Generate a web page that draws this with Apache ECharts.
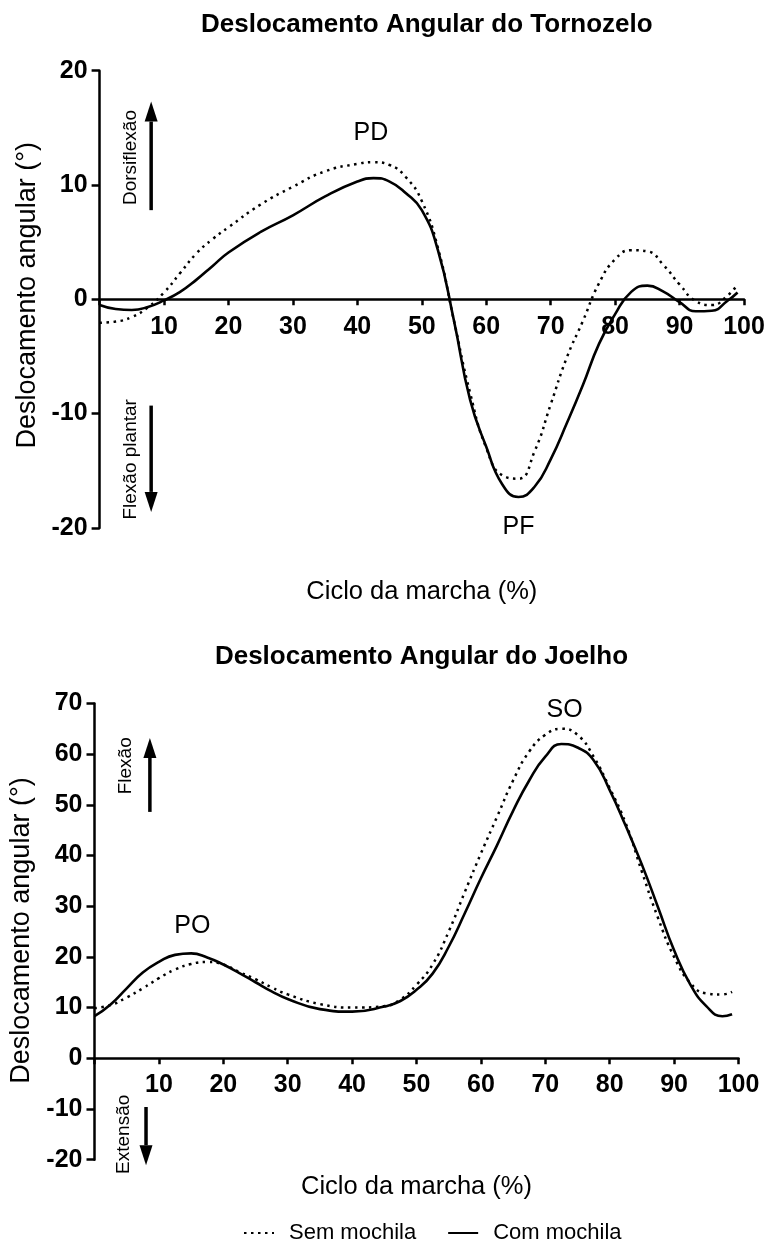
<!DOCTYPE html>
<html>
<head>
<meta charset="utf-8">
<script src="https://cdn.jsdelivr.net/npm/echarts@6/dist/echarts.min.js"></script>
<style>
html, body { margin: 0; padding: 0; background: #fff; }
#chart-container { width: 766px; height: 1245px; }
</style>
</head>
<body>
<div id="chart-container"></div>
<script>
// ankle (tornozelo), % of gait cycle
const ankleX   = [0, 2.5, 5, 7.5, 10, 12.5, 15, 17.5, 20, 25, 30, 35, 40, 42.5, 45, 47.5, 50, 52.5, 55, 57.5, 60, 62.5, 65, 67.5, 70, 72.5, 75, 77.5, 80, 82.5, 85, 87.5, 90, 92.5, 95, 97.5, 99];
const ankleSem = [-2.05, -1.95, -1.55, -0.7, 0.6, 2.3, 4.0, 5.25, 6.3, 8.3, 9.85, 11.2, 11.85, 12.0, 11.75, 10.7, 8.6, 4.5, -1.9, -8.2, -13.0, -15.4, -15.7, -13.3, -9.2, -5.1, -1.9, 1.4, 3.5, 4.3, 4.2, 3.0, 1.3, -0.15, -0.5, 0.35, 1.3];
const ankleCom = [-0.5, -0.85, -0.93, -0.67, -0.1, 0.65, 1.7, 2.9, 4.1, 5.9, 7.35, 9.0, 10.3, 10.6, 10.3, 9.3, 7.8, 4.3, -1.9, -8.8, -12.9, -16.2, -17.3, -16.4, -14.0, -10.85, -7.5, -3.9, -1.3, 0.65, 1.2, 0.67, -0.25, -1.05, -1.0, -0.1, 0.6];

// knee (joelho)
const kneeX   = [0, 2.5, 5, 7.5, 10, 12.5, 15, 17.5, 20, 22.5, 25, 27.5, 30, 35, 40, 45, 47.5, 50, 52.5, 55, 57.5, 60, 62.5, 65, 67.5, 70, 72.5, 75, 77.5, 80, 82.5, 85, 87.5, 90, 92.5, 95, 97.5, 99];
const kneeSem = [9.9, 10.5, 12.0, 13.8, 15.8, 17.5, 18.6, 19.0, 18.5, 17.0, 15.6, 14.0, 12.6, 10.7, 10.0, 10.3, 11.6, 14.5, 18.5, 25.0, 32.8, 40.4, 47.6, 54.8, 60.5, 63.8, 65.0, 63.8, 59.5, 53.3, 46.3, 36.8, 27.7, 20.0, 14.9, 12.8, 12.6, 13.1];
const kneeCom = [8.3, 10.6, 13.8, 16.9, 19.0, 20.4, 20.7, 19.9, 18.5, 16.8, 15.0, 13.2, 11.7, 9.7, 9.2, 10.2, 11.3, 13.5, 16.7, 22.0, 28.6, 35.5, 42.0, 48.8, 54.8, 59.5, 62.0, 61.3, 58.8, 52.9, 45.8, 38.2, 29.8, 21.3, 14.6, 10.3, 8.3, 8.7];

const seriesNames = ['Sem mochila', 'Com mochila'];
const titles = ['Deslocamento Angular do Tornozelo', 'Deslocamento Angular do Joelho'];
const ankleRange = [-20, 20];
const kneeRange = [-20, 70];

const FONT = '"Liberation Sans", Arial, sans-serif';
const H = 1245;

const pairs = (xs, ys) => xs.map((x, i) => [x, ys[i]]);

const dotted = { color: '#000', width: 2.5, type: [2.5, 4.5] };
const solid = { color: '#000', width: 2.6, type: 'solid' };

const grids = [
    { left: 99.6, right: 22, top: 70.7, bottom: 717.1, outerBoundsMode: 'none' },
    { left: 94.5, right: 27.5, top: 703.4, bottom: 85.3, outerBoundsMode: 'none' }
];

// pull the x axis up from the grid bottom to the y = 0 line
function zeroOffset(grid, range) {
    const h = H - grid.top - grid.bottom;
    return -h * (0 - range[0]) / (range[1] - range[0]);
}

function xAxisFor(gridIndex, range, nameGap, margin) {
    return {
        gridIndex: gridIndex,
        type: 'value',
        min: 0,
        max: 100,
        interval: 10,
        position: 'bottom',
        offset: zeroOffset(grids[gridIndex], range),
        name: 'Ciclo da marcha (%)',
        nameLocation: 'middle',
        nameGap: nameGap,
        nameTextStyle: { color: '#000', fontSize: 25.5, fontFamily: FONT },
        axisLine: { onZero: false, lineStyle: { color: '#000', width: 2.5 } },
        axisTick: { length: 6, lineStyle: { color: '#000', width: 2.5 } },
        axisLabel: {
            color: '#000', fontSize: 25, fontWeight: 'bold', fontFamily: FONT, margin: margin,
            formatter: v => (v === 0 ? '' : String(v))
        },
        splitLine: { show: false }
    };
}

function yAxisFor(gridIndex, range, namePad) {
    return {
        gridIndex: gridIndex,
        type: 'value',
        min: range[0],
        max: range[1],
        interval: 10,
        name: 'Deslocamento angular (°)',
        nameLocation: 'middle',
        nameGap: 57,
        nameTextStyle: { color: '#000', fontSize: 27, fontFamily: FONT, padding: [0, 0, 0, namePad] },
        axisLine: { show: true, lineStyle: { color: '#000', width: 2.5 } },
        axisTick: { show: true, length: 8, lineStyle: { color: '#000', width: 2.5 } },
        axisLabel: { color: '#000', fontSize: 25, fontWeight: 'bold', fontFamily: FONT, margin: 12 },
        splitLine: { show: false }
    };
}

const myChart = echarts.init(document.getElementById('chart-container'));
const option = {
    animation: false,
    backgroundColor: '#fff',
    title: [
        { text: titles[0], left: 421.8, top: 7, textAlign: 'center',
          textStyle: { color: '#000', fontSize: 26, fontWeight: 'bold', fontFamily: FONT } },
        { text: titles[1], left: 416.5, top: 639, textAlign: 'center',
          textStyle: { color: '#000', fontSize: 26, fontWeight: 'bold', fontFamily: FONT } }
    ],
    legend: {
        data: seriesNames,
        left: 238,
        top: 1217,
        itemWidth: 30,
        itemHeight: 14,
        itemGap: 31,
        itemStyle: { color: 'rgba(0,0,0,0)', borderColor: 'rgba(0,0,0,0)', borderWidth: 0, opacity: 0 },
        textStyle: { color: '#000', fontSize: 22, fontFamily: FONT, padding: [0, 0, 0, 10] }
    },
    grid: grids,
    xAxis: [xAxisFor(0, ankleRange, 280, 15), xAxisFor(1, kneeRange, 116, 14)],
    yAxis: [yAxisFor(0, ankleRange, 8), yAxisFor(1, kneeRange, 2)],
    series: [
        { name: seriesNames[0], type: 'line', xAxisIndex: 0, yAxisIndex: 0, data: pairs(ankleX, ankleSem),
          smooth: 0.5, symbol: 'none', lineStyle: dotted, itemStyle: { color: '#000' } },
        { name: seriesNames[1], type: 'line', xAxisIndex: 0, yAxisIndex: 0, data: pairs(ankleX, ankleCom),
          smooth: 0.5, symbol: 'none', lineStyle: solid, itemStyle: { color: '#000' } },
        { name: seriesNames[0], type: 'line', xAxisIndex: 1, yAxisIndex: 1, data: pairs(kneeX, kneeSem),
          smooth: 0.5, symbol: 'none', lineStyle: dotted, itemStyle: { color: '#000' } },
        { name: seriesNames[1], type: 'line', xAxisIndex: 1, yAxisIndex: 1, data: pairs(kneeX, kneeCom),
          smooth: 0.5, symbol: 'none', lineStyle: solid, itemStyle: { color: '#000' } }
    ]
};

option && myChart.setOption(option);

// annotations, placed in data units of each grid
const peakLabels = [
    { grid: 0, text: 'PD', x: 42.1, y: 14.5 },
    { grid: 0, text: 'PF', x: 65.0, y: -19.9 },
    { grid: 1, text: 'PO', x: 15.2, y: 26.1 },
    { grid: 1, text: 'SO', x: 73.0, y: 68.7 }
];
const arrows = [
    { grid: 0, x: 8.0, from: 7.8, to: 17.3 },
    { grid: 0, x: 8.0, from: -9.3, to: -18.6 },
    { grid: 1, x: 8.6, from: 48.6, to: 63.2 },
    { grid: 1, x: 8.0, from: -9.6, to: -21.1 }
];
const arrowTexts = [
    { grid: 0, text: 'Dorsiflexão', x: 4.9, y: 12.4 },
    { grid: 0, text: 'Flexão plantar', x: 4.9, y: -14.0 },
    { grid: 1, text: 'Flexão', x: 4.9, y: 57.7 },
    { grid: 1, text: 'Extensão', x: 4.6, y: -15.0 }
];

const px = (g, x, y) => myChart.convertToPixel({ gridIndex: g }, [x, y]);
const elements = [];

peakLabels.forEach(p => {
    const [cx, cy] = px(p.grid, p.x, p.y);
    elements.push({
        type: 'text', x: cx, y: cy, silent: true,
        style: { text: p.text, fill: '#000', font: '25px ' + FONT, align: 'center', verticalAlign: 'middle' }
    });
});

arrows.forEach(a => {
    const [x0, y0] = px(a.grid, a.x, a.from);
    const [, y1] = px(a.grid, a.x, a.to);
    const dir = y1 < y0 ? 1 : -1;   // 1 = pointing up
    const headLen = 20, headW = 13;
    const base = y1 + dir * headLen;
    elements.push({
        type: 'line', silent: true,
        shape: { x1: x0, y1: y0, x2: x0, y2: base },
        style: { stroke: '#000', lineWidth: 3.5 }
    });
    elements.push({
        type: 'polygon', silent: true,
        shape: { points: [[x0, y1], [x0 - headW / 2, base], [x0 + headW / 2, base]] },
        style: { fill: '#000' }
    });
});

arrowTexts.forEach(t => {
    const [cx, cy] = px(t.grid, t.x, t.y);
    elements.push({
        type: 'text', x: cx, y: cy, rotation: Math.PI / 2, silent: true,
        style: { text: t.text, fill: '#000', font: '19px ' + FONT, align: 'center', verticalAlign: 'middle' }
    });
});

myChart.setOption({ graphic: { elements: elements } });
</script>
</body>
</html>
